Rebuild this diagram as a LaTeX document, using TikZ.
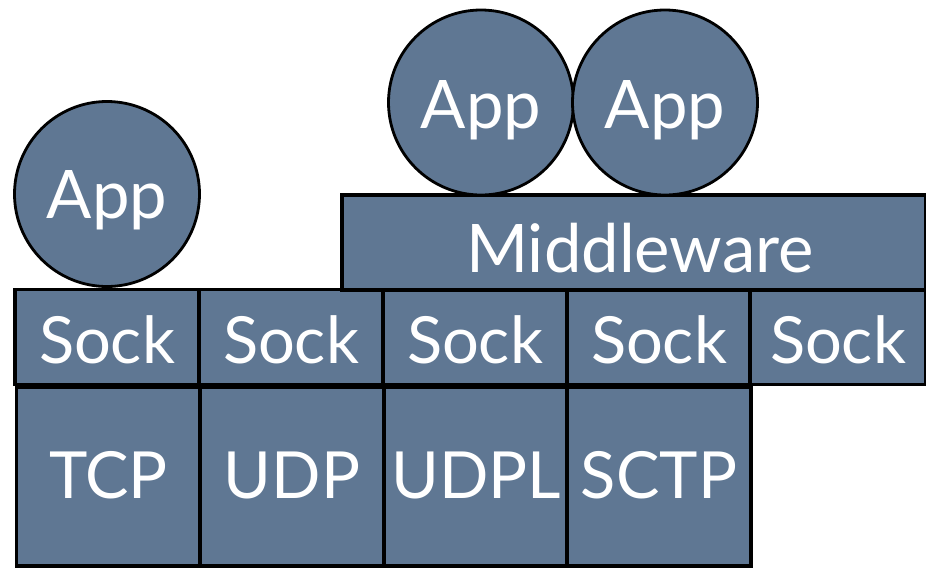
\documentclass[tikz,border=0pt]{standalone}
\usepackage{fontspec}
\setmainfont{Lato}
\definecolor{slate}{RGB}{95,119,147}
\tikzset{
  blk/.style={draw=black, line width=3.3pt, fill=slate, inner sep=0pt, text=white,
    font=\fontsize{65}{70}\selectfont, text depth=0pt},
  appc/.style={blk, circle, line width=2.8pt, minimum size=185pt, font=\fontsize{67}{72}\selectfont},
  sockbox/.style={blk, rectangle, minimum width=184pt, minimum height=95pt, text height=52pt},
  protbox/.style={blk, rectangle, minimum width=184pt, minimum height=179pt, text height=43pt},
}
\begin{document}
\begin{tikzpicture}[x=1pt,y=-1pt]
\useasboundingbox (0,0) rectangle (926,568);
% protocol row
\node[protbox] (tcp)  at (108.5,476.5) {TCP};
\node[protbox] (udp)  at (292,476.5) {UDP};
\node[protbox] (udpl) at (476,476.5) {UDPL};
\node[protbox] (sctp) at (659,476.5) {SCTP};
% socket row
\node[sockbox] (s1) at (107,337) {Sock};
\node[sockbox] (s2) at (291,337) {Sock};
\node[sockbox] (s3) at (475,337) {Sock};
\node[sockbox] (s4) at (659,337) {Sock};
\node[sockbox, minimum width=176pt] (s5) at (838,337) {Sock};
% middleware
\node[blk, rectangle, minimum width=584pt, minimum height=95pt, text height=59pt, font=\fontsize{67}{72}\selectfont] (mw) at (634,242.5) {\hspace*{12pt}Middleware};
% apps
\node[appc, text height=48pt] (a1) at (107,194) {App};
\node[appc, text height=51pt] (a2) at (481,102.5) {App};
\node[appc, text height=51pt] (a3) at (665,102.5) {App};
\end{tikzpicture}
\end{document}
